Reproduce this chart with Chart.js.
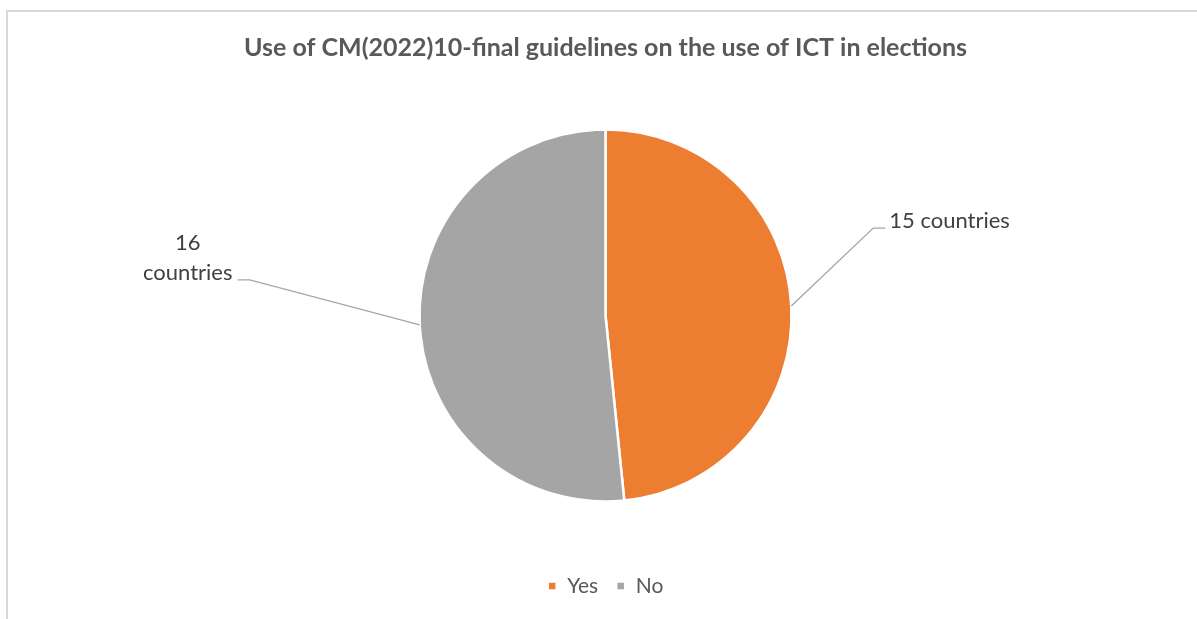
<!DOCTYPE html>
<html>
<head>
<meta charset="utf-8">
<script src="https://cdn.jsdelivr.net/npm/chart.js@4"></script>
<style>
  html, body { margin: 0; padding: 0; background: #fff; }
  #wrap { position: relative; width: 1197px; height: 619px; }
  #frame { position: absolute; left: 6px; top: 10px; right: -4px; bottom: -4px; border-left: 2px solid #d9d9d9; border-top: 2px solid #d9d9d9; }
  canvas { position: absolute; left: 0; top: 0; }
</style>
</head>
<body>
<div id="wrap">
  <div id="frame"></div>
  <canvas id="c" width="1197" height="619"></canvas>
</div>
<script>
const categories = ['Yes', 'No'];
const countries = [15, 16];
const sliceLabels = [['15 countries'], ['16', 'countries']];
const sliceColors = ['#ED7D31', '#A5A5A5'];

const FONT = 'Lato, "Open Sans", sans-serif';

// Leader lines and labels placed outside each slice
const leaderLabels = {
  id: 'leaderLabels',
  afterDatasetsDraw(chart) {
    const ctx = chart.ctx;
    const meta = chart.getDatasetMeta(0);
    ctx.save();
    ctx.strokeStyle = '#a6a6a6';
    ctx.lineWidth = 1.4;
    ctx.fillStyle = '#404040';
    ctx.font = '22px ' + FONT;
    ctx.textBaseline = 'middle';
    meta.data.forEach((arc, i) => {
      const p = arc.getProps(['x', 'y', 'startAngle', 'endAngle', 'outerRadius'], true);
      const mid = (p.startAngle + p.endAngle) / 2;
      const sx = p.x + Math.cos(mid) * p.outerRadius;
      const sy = p.y + Math.sin(mid) * p.outerRadius;
      const right = Math.cos(mid) >= 0;
      const lines = sliceLabels[i];
      if (right) {
        const ex = sx + 82, ey = sy - 78;
        ctx.beginPath();
        ctx.moveTo(sx, sy); ctx.lineTo(ex, ey); ctx.lineTo(ex + 12, ey);
        ctx.stroke();
        ctx.textAlign = 'left';
        ctx.fillText(lines[0], ex + 16, ey - 7);
      } else {
        const ex = sx - 170, ey = sy - 45;
        ctx.beginPath();
        ctx.moveTo(sx, sy); ctx.lineTo(ex, ey); ctx.lineTo(ex - 12, ey);
        ctx.stroke();
        ctx.textAlign = 'center';
        const cx = ex - 62;
        ctx.fillText(lines[1], cx, ey - 7);
        ctx.fillText(lines[0], cx, ey - 37);
      }
    });
    ctx.restore();
  }
};

new Chart(document.getElementById('c'), {
  type: 'pie',
  data: {
    labels: categories,
    datasets: [{
      data: countries,
      backgroundColor: sliceColors,
      borderColor: '#ffffff',
      borderWidth: 2.5
    }]
  },
  options: {
    responsive: false,
    animation: false,
    devicePixelRatio: 1,
    radius: 186,
    layout: { padding: { left: 14, right: 0, top: 0, bottom: 12.5 } },
    plugins: {
      title: {
        display: true,
        text: 'Use of CM(2022)10-final guidelines on the use of ICT in elections',
        color: '#595959',
        font: { family: FONT, size: 25, weight: 'bold' },
        padding: { top: 33, bottom: 10.5 }
      },
      legend: {
        position: 'bottom',
        labels: {
          color: '#595959',
          font: { family: FONT, size: 21 },
          boxWidth: 9,
          boxHeight: 9,
          padding: 18
        }
      },
      tooltip: { enabled: false }
    }
  },
  plugins: [leaderLabels]
});
</script>
</body>
</html>
